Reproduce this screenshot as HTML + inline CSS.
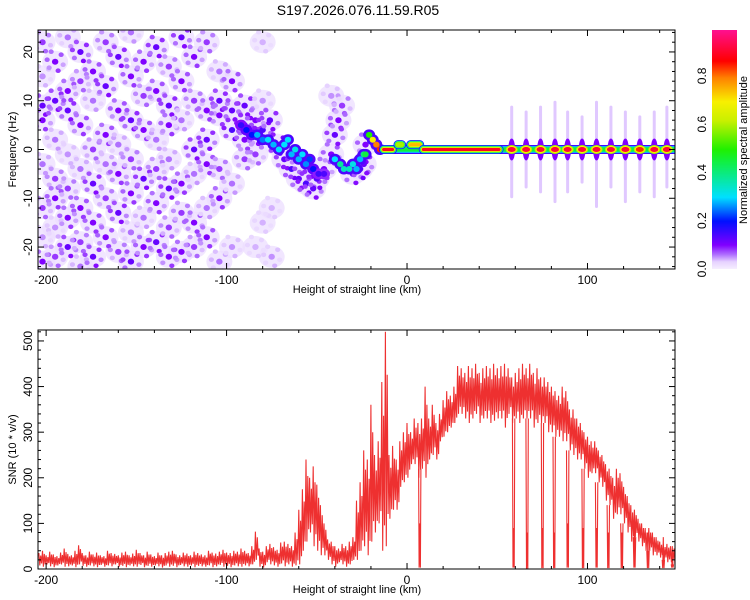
<!DOCTYPE html>
<html><head><meta charset="utf-8"><style>
body{margin:0;background:#fff;}
svg{display:block;font-family:"Liberation Sans",sans-serif;}
</style></head><body>
<svg id="fig" width="750" height="600" viewBox="0 0 750 600">
<defs>
<linearGradient id="cbgrad" x1="0" y1="1" x2="0" y2="0">
<stop offset="0" stop-color="#f6eeff"/><stop offset="0.03" stop-color="#e6d2ff"/><stop offset="0.06" stop-color="#b070ff"/><stop offset="0.1" stop-color="#8000ff"/>
<stop offset="0.2" stop-color="#0010ff"/><stop offset="0.3" stop-color="#00e0ff"/><stop offset="0.45" stop-color="#10f040"/><stop offset="0.5" stop-color="#20f000"/>
<stop offset="0.62" stop-color="#c8f000"/><stop offset="0.7" stop-color="#f8f000"/><stop offset="0.8" stop-color="#ff8000"/><stop offset="0.87" stop-color="#ff0000"/><stop offset="1" stop-color="#ff1090"/>
</linearGradient>
<clipPath id="clipTop"><rect x="38" y="30" width="637" height="239"/></clipPath>
<clipPath id="clipBot"><rect x="38" y="330" width="637" height="239"/></clipPath>
</defs>
<text x="358" y="15" text-anchor="middle" font-size="14">S197.2026.076.11.59.R05</text>
<g id="topPanel"></g>
<g id="botPanel"></g>
<g id="cb"></g>
</svg>
<script>
// ---- spectrogram data ----
const bgX = [-202,-202,-202,-202,-202,-202,-202,-202,-195,-195,-195,-195,-195,-195,-195,-188,-188,-188,-188,-188,-188,-188,-181,-181,-181,-181,-181,-181,-181,-174,-174,-174,-174,-174,-174,-167,-167,-167,-167,-167,-167,-160,-160,-160,-160,-160,-160,-153,-153,-153,-153,-153,-153,-153,-146,-146,-146,-146,-146,-146,-139,-139,-139,-139,-139,-139,-132,-132,-132,-132,-132,-132,-132,-125,-125,-125,-125,-125,-125,-118,-118,-118,-118,-118,-118,-111,-111,-111,-111,-111,-111,-104,-104,-104,-104,-104,-104,-97,-97,-97,-97,-97,-90,-90,-90,-90,-84,-84,-84,-84,-80,-80,-80,-75,-75,-80,-76,-72,-68,-64,-60,-56,-52,-50,-46,-42,-40,-38,-36,-42,-30,-26,-24,-23];
const bgF = [22,15,9,6,-3,-12,-18,-23,18,10,2,-6,-10,-16,-22,23,12,8,-1,-8,-14,-20,20,14,5,-4,-12,-19,-24,16,10,0,-7,-15,-22,22,13,3,-3,-10,-18,19,8,1,-5,-13,-21,24,15,6,-2,-9,-17,-23,18,11,4,-6,-14,-20,21,12,2,-4,-11,-19,17,9,5,-2,-8,-16,-22,23,14,6,-7,-13,-21,19,10,0,-5,-15,-20,22,8,2,-3,-12,-18,16,10,7,-4,-10,-23,14,8,4,-7,-20,9,5,2,-2,6,3,-1,-20,22,10,-15,-22,-12,4,6,1,-2,-4,-6,-7,-8,-6,-4,-1,3,6,9,11,-5,-4,-3,1];
const bgA = [.08,.05,.12,.1,.06,.08,.05,.1,.1,.12,.06,.08,.1,.05,.08,.06,.1,.12,.05,.08,.1,.12,.12,.08,.1,.06,.1,.08,.06,.1,.06,.08,.12,.1,.12,.08,.12,.1,.06,.08,.1,.12,.1,.06,.1,.12,.08,.06,.1,.12,.08,.1,.06,.12,.1,.08,.1,.12,.06,.1,.12,.1,.06,.08,.1,.12,.08,.12,.1,.06,.12,.08,.1,.12,.1,.06,.1,.08,.1,.1,.08,.12,.06,.1,.08,.08,.1,.12,.1,.06,.1,.06,.12,.1,.08,.1,.06,.1,.12,.14,.06,.05,.12,.14,.1,.08,.1,.12,.08,.04,.04,.05,.04,.05,.04,.14,.12,.15,.12,.14,.12,.14,.12,.13,.1,.1,.12,.1,.08,.05,.12,.14,.12,.1];
const ridgeX = [-92,-89,-86,-83,-80,-77,-74,-71,-68,-66,-64,-62,-60,-58,-56,-54,-52,-49,-46,-40,-37,-35,-32,-30,-28,-26,-24,-23,-21,-19,-17,-15];
const ridgeF = [5,4,3,3,2,2,1,0,1,2,-1,0,-2,-1,-3,-2,-4,-5,-5,-2,-3,-4,-4,-3,-4,-2,-1,-1,3,2,1,0];
const ridgeA = [.16,.2,.2,.28,.25,.3,.28,.3,.3,.3,.28,.32,.28,.3,.26,.22,.2,.15,.14,.3,.38,.35,.35,.32,.28,.28,.4,.45,.5,.7,.8,.85];
const lineStart = [-13,-5,2,9];
const lineEnd = [-8,-3,7,51];
const lineF = [0,1,1,0];
const lineA = [.9,.6,.75,.9];
const beadX = [58,66,74,82,89,97,105,113,121,129,137,144];
const beadA = [.92,.92,.92,.92,.92,.92,.92,.92,.92,.85,.92,.92];
const streakTop = [9,8,9,10,8,7,10,9,8,7,8,9];
const streakBottom = [-10,-8,-9,-11,-9,-7,-12,-8,-11,-9,-10,-8];
const fTicks = [-20,-10,0,10,20];
const xTicks = [-200,-100,0,100];
const cbTicks = [0.0,0.2,0.4,0.6,0.8];
// ---- SNR data (2 km steps starting at -204) ----
const snrStart = -204;
const snrHi = [35,40,30,38,32,28,36,45,33,30,40,52,35,30,38,32,36,30,28,40,35,33,30,36,38,30,34,42,35,30,38,32,28,36,30,35,38,40,32,30,36,34,30,38,35,32,30,40,36,34,38,42,36,35,40,38,45,
40,35,50,82,45,38,50,55,48,42,58,60,55,50,80,
130,175,240,200,225,185,140,
100,65,60,50,45,55,50,60,70,
150,190,260,240,360,250,280,410,
520,
250,270,240,280,300,320,300,330,320,330,400,330,360,320,340,370,390,380,400,445,440,430,445,440,450,430,440,445,440,450,440,445,450,440,
420,430,440,450,440,450,430,440,420,420,410,400,390,380,400,390,350,350,330,320,300,290,280,280,260,250,230,220,200,220,210,180,160,140,130,110,100,90,90,80,70,60,55,55,50,45];
const snrLo = [8,5,10,6,4,8,10,5,6,8,4,10,7,5,8,6,4,9,5,8,6,10,5,7,4,8,6,5,9,4,7,5,8,6,3,8,5,7,4,9,6,5,8,4,7,6,5,8,4,6,9,5,7,4,8,6,5,
8,6,10,20,5,3,15,10,8,5,12,6,10,5,8,
10,40,60,80,50,40,30,
30,20,10,5,15,10,5,10,20,
20,40,50,30,60,80,100,40,
50,
110,130,130,180,190,200,230,230,200,220,200,240,250,240,280,290,300,310,320,340,340,330,320,330,340,320,330,330,320,325,330,330,310,340,
320,330,320,330,330,330,310,320,320,320,300,300,290,290,280,280,260,250,240,240,220,200,210,210,190,180,150,140,110,120,120,100,80,60,70,60,50,40,40,30,30,25,20,15,15,10];
const dropX = [7,59,66.5,75,81.5,89,97.5,105,111.5,119,126,133.5,142,147];
const dropMin = [3,3,0,2,2,3,2,3,2,2,3,2,2,3];
const dropBurst = [100,90,80,90,80,100,90,90,80,80,100,80,70,50];
const snrTicks = [0,100,200,300,400,500];

const NS='http://www.w3.org/2000/svg';
function mk(tag,attrs,parent){const e=document.createElementNS(NS,tag);for(const k in attrs)e.setAttribute(k,attrs[k]);parent.appendChild(e);return e;}
const X0=38,X1=675,XMIN=-204.5,XMAX=148.5;
const xs=v=>X0+(v-XMIN)/(XMAX-XMIN)*(X1-X0);
const T0=30,T1=269,FMIN=-24.5,FMAX=24.5;
const fy=v=>T1-(v-FMIN)/(FMAX-FMIN)*(T1-T0);
const B0=330,B1=569,SMAX=524;
const sy=v=>B1-v/SMAX*(B1-B0);
const stops=[[0,[246,238,255]],[0.03,[230,210,255]],[0.06,[176,112,255]],[0.1,[128,0,255]],[0.2,[0,16,255]],[0.3,[0,224,255]],[0.45,[16,240,64]],[0.5,[32,240,0]],[0.62,[200,240,0]],[0.7,[248,240,0]],[0.8,[255,128,0]],[0.87,[255,0,0]],[1,[255,16,144]]];
function col(a){a=Math.max(0,Math.min(1,a));for(let i=1;i<stops.length;i++){if(a<=stops[i][0]){const[p,c0]=stops[i-1],[q,c1]=stops[i];const t=(a-p)/(q-p);return 'rgb('+c0.map((c,j)=>Math.round(c+(c1[j]-c)*t)).join(',')+')';}}return 'rgb(255,16,144)';}

const topG=document.getElementById('topPanel');
const heat=mk('g',{'clip-path':'url(#clipTop)'},topG);


// lavender haze
for(let i=0;i<bgX.length;i++){
  const e=mk('ellipse',{cx:xs(bgX[i]),cy:fy(bgF[i]),rx:13,ry:11,fill:'rgb(236,222,255)',opacity:0.75},heat);
  
  
}
// speckle satellites (fixed offset pattern around each blob)
const satDX=[6,-6,3,-4,8,-8];
const satDY=[-7,6,9,-10,3,-2];
const satK=[0.7,0.5,0.8,0.6,0.45,0.65];
for(let i=0;i<bgX.length;i++){
  for(let j=0;j<satDX.length;j++){
    const e=mk('ellipse',{cx:xs(bgX[i])+satDX[j],cy:fy(bgF[i])+satDY[j],rx:2.6,ry:2.3,fill:col(bgA[i]*satK[j])},heat);
    
    
  }
  const c=mk('ellipse',{cx:xs(bgX[i]),cy:fy(bgF[i]),rx:3.2,ry:3,fill:col(bgA[i])},heat);
  
  
}
for(let i=0;i<beadX.length;i++){
  const s=mk('rect',{x:xs(beadX[i])-1.5,y:fy(streakTop[i]),width:3,height:fy(streakBottom[i])-fy(streakTop[i]),rx:1.5,fill:col(0.035),opacity:0.9},heat);
  
  
  const s2=mk('ellipse',{cx:xs(beadX[i]),cy:fy(0),rx:3.5,ry:11,fill:col(0.1)},heat);
  
  
}
for(let i=0;i<ridgeX.length;i++){
  const h=mk('ellipse',{cx:xs(ridgeX[i]),cy:fy(ridgeF[i]),rx:6,ry:5.5,fill:col(Math.min(0.14,ridgeA[i]*0.6))},heat);
  
  
}
for(let i=0;i<ridgeX.length;i++){
  const c=mk('ellipse',{cx:xs(ridgeX[i]),cy:fy(ridgeF[i]),rx:3.2,ry:3,fill:col(ridgeA[i])},heat);
  
  
}
const bandLayers=[[9,0.15],[6.5,0.3],[4.5,0.45]];
bandLayers.forEach(([w,a])=>{
  const b=mk('line',{x1:xs(-13),x2:xs(XMAX),y1:fy(0),y2:fy(0),stroke:col(a),'stroke-width':w,'stroke-linecap':'round'},heat);
  
  
});
for(let i=0;i<lineStart.length;i++){
  [[9,0.18],[7.5,0.35],[6,0.55],[4.5,0.7],[3,lineA[i]]].forEach(([w,a])=>{
    const l=mk('line',{x1:xs(lineStart[i]),x2:xs(lineEnd[i]),y1:fy(lineF[i]),y2:fy(lineF[i]),stroke:col(Math.min(a,lineA[i])),'stroke-width':w,'stroke-linecap':'round'},heat);
    
    
  });
}
for(let i=0;i<beadX.length;i++){
  [[6,4.5,0.6],[5,3.5,0.7],[4,2.5,beadA[i]]].forEach(([rx,ry,a])=>{
    const b=mk('ellipse',{cx:xs(beadX[i]),cy:fy(0),rx:rx,ry:ry,fill:col(Math.min(a,beadA[i]))},heat);
    
    
  });
}

function axes(g,yt,ymin,ymax,ymap,yminor,yTitle,titleName,tickName){
  const y0=ymap(ymin),y1=ymap(ymax);
  const fr=mk('rect',{x:X0,y:y1,width:X1-X0,height:y0-y1,fill:'none',stroke:'#000','stroke-width':1},g);
  
  
  for(let v=-200;v<=140;v+=20){
    const L=(v%100===0)?6:3;
    mk('line',{x1:xs(v),x2:xs(v),y1:y0,y2:y0-L,stroke:'#000'},g);
    mk('line',{x1:xs(v),x2:xs(v),y1:y1,y2:y1+L,stroke:'#000'},g);
  }
  xTicks.forEach(v=>{
    const t=mk('text',{x:xs(v),y:y0+15,'text-anchor':'middle','font-size':12},g);
    t.textContent=v;
    
    
  });
  const xt=mk('text',{x:357,y:y0+24,'text-anchor':'middle','font-size':11},g);
  xt.textContent='Height of straight line (km)';
  
  
  for(let v=Math.ceil(ymin/yminor)*yminor;v<=ymax;v+=yminor){
    const L=yt.includes(v)?6:3;
    mk('line',{x1:X0,x2:X0+L,y1:ymap(v),y2:ymap(v),stroke:'#000'},g);
    mk('line',{x1:X1,x2:X1-L,y1:ymap(v),y2:ymap(v),stroke:'#000'},g);
  }
  yt.forEach(v=>{
    const t=mk('text',{x:0,y:0,'text-anchor':'middle','font-size':12,transform:`translate(${X0-6},${ymap(v)}) rotate(-90)`},g);
    t.textContent=v;
    
    
  });
  const yl=mk('text',{x:0,y:0,'text-anchor':'middle','font-size':11,transform:`translate(16,${(y0+y1)/2}) rotate(-90)`},g);
  yl.textContent=yTitle;
  
  
}
axes(topG,fTicks,FMIN,FMAX,fy,2,'Frequency (Hz)','y-axis-title','y-tick-label');

const botG=document.getElementById('botPanel');
const snrClip=mk('g',{'clip-path':'url(#clipBot)'},botG);
let pts=[];
for(let i=0;i<snrHi.length;i++){
  const k=snrStart+2*i, hi=snrHi[i], lo=snrLo[i];
  pts.push(xs(k).toFixed(1)+','+sy(hi).toFixed(1));
  pts.push(xs(k+0.5).toFixed(1)+','+sy(lo).toFixed(1));
  pts.push(xs(k+1).toFixed(1)+','+sy(lo+0.8*(hi-lo)).toFixed(1));
  pts.push(xs(k+1.5).toFixed(1)+','+sy(lo+0.15*(hi-lo)).toFixed(1));
}
const pl=mk('polyline',{points:pts.join(' '),fill:'none',stroke:'#ee3030','stroke-width':1.1},snrClip);


for(let d=0;d<dropX.length;d++){
  const idx=Math.max(0,Math.min(snrLo.length-1,Math.round((dropX[d]-snrStart)/2)));
  const base=snrLo[idx];
  const x=dropX[d];
  const dp=[[x-0.6,base],[x-0.3,dropMin[d]],[x,dropBurst[d]],[x+0.2,dropMin[d]+20],[x+0.4,dropMin[d]],[x+0.7,base]];
  const p=mk('polyline',{points:dp.map(q=>xs(q[0]).toFixed(1)+','+sy(q[1]).toFixed(1)).join(' '),fill:'none',stroke:'#ee3030','stroke-width':1.1},snrClip);
  
  
}
axes(botG,snrTicks,0,SMAX,sy,20,'SNR (10 * v/v)','snr-axis-title','snr-tick-label');

const cb=document.getElementById('cb');
const CB0=269,CB1=30,CMAX=0.99;
const cy=v=>CB0-v/CMAX*(CB0-CB1);
const bar=mk('rect',{x:712,y:CB1,width:25,height:CB0-CB1,fill:'url(#cbgrad)'},cb);


cbTicks.forEach(v=>{
  const t=mk('text',{x:0,y:0,'text-anchor':'middle','font-size':12,transform:`translate(706,${cy(v)}) rotate(-90)`},cb);
  t.textContent=v.toFixed(1);
  
  
});
const ct=mk('text',{x:0,y:0,'text-anchor':'middle','font-size':11,transform:`translate(747,150) rotate(-90)`},cb);
ct.textContent='Normalized spectral amplitude';


</script>
</body></html>
